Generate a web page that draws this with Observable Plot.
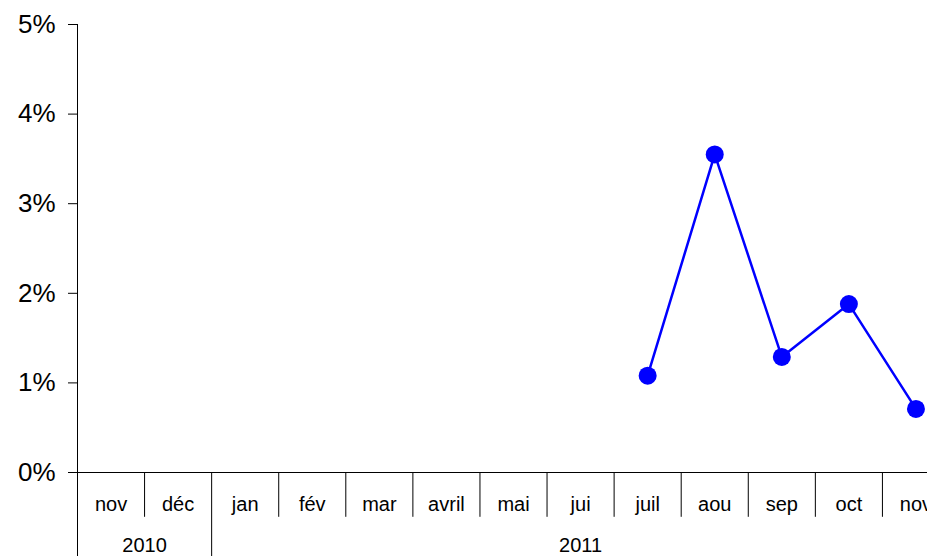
<!DOCTYPE html>
<html>
<head>
<meta charset="utf-8">
<script src="https://cdn.jsdelivr.net/npm/d3@7"></script>
<script src="https://cdn.jsdelivr.net/npm/@observablehq/plot@0.6"></script>
<style>
  html, body { margin: 0; padding: 0; background: #fff; }
  #chart { width: 927px; height: 556px; overflow: hidden; }
</style>
</head>
<body>
<div id="chart"></div>
<script>
const months = ["nov","déc","jan","fév","mar","avril","mai","jui","juil","aou","sep","oct","nov"];
const values = [null, null, null, null, null, null, null, null, 1.08, 3.55, 1.29, 1.88, 0.71];
const yearLabels = ["2010", "2011"];
const yearMonthCounts = [2, 11];
const yTicks = [0, 1, 2, 3, 4, 5];

const pts = months.map((m, i) => ({i, m, v: values[i]}));
const series = pts.filter(d => d.v != null);

// year boundaries and centres derived from month counts
const yearStarts = [];
let acc = 0;
for (const c of yearMonthCounts) { yearStarts.push(acc); acc += c; }
const years = yearLabels.map((y, k) => ({label: y, start: yearStarts[k], mid: yearStarts[k] + yearMonthCounts[k] / 2}));
const monthSeps = d3.range(1, months.length).filter(i => !yearStarts.includes(i));

const chart = Plot.plot({
  width: 927,
  height: 556,
  marginLeft: 77,
  marginRight: 0,
  marginTop: 24,
  marginBottom: 84,
  style: {fontFamily: "'Liberation Sans', Arial, sans-serif", background: "white", color: "black"},
  x: {domain: [0, months.length], range: [77, 949]},
  y: {domain: [0, 5]},
  marks: [
    Plot.axisY({ticks: yTicks, tickFormat: d => d + "%", tickSize: 9, tickPadding: 13, fontSize: 26, label: null, stroke: "black"}),
    Plot.axisX({ticks: [], label: null}),
    // y axis line
    Plot.ruleX([0], {x: d => d, y1: 5, y2: -0.95, stroke: "black"}),
    // baseline
    Plot.ruleY([0], {y: d => d, x1: 0, x2: months.length, stroke: "black"}),
    // month separators
    Plot.ruleX(monthSeps, {x: d => d, y1: 0, y2: -0.50, stroke: "black"}),
    // year separators
    Plot.ruleX(yearStarts, {x: d => d, y1: 0, y2: -0.95, stroke: "black"}),
    // month labels
    Plot.text(pts, {x: d => d.i + 0.5, y: () => 0, dy: 32, text: d => d.m, fontSize: 20, fill: "black"}),
    // year labels
    Plot.text(years, {x: d => d.mid, y: () => 0, dy: 73, text: d => d.label, fontSize: 20, fill: "black"}),
    // series
    Plot.line(series, {x: d => d.i + 0.5, y: "v", stroke: "#0000ff", strokeWidth: 2.5}),
    Plot.dot(series, {x: d => d.i + 0.5, y: "v", r: 9, fill: "#0000ff", stroke: "none"})
  ]
});
document.getElementById("chart").appendChild(chart);
</script>
</body>
</html>
